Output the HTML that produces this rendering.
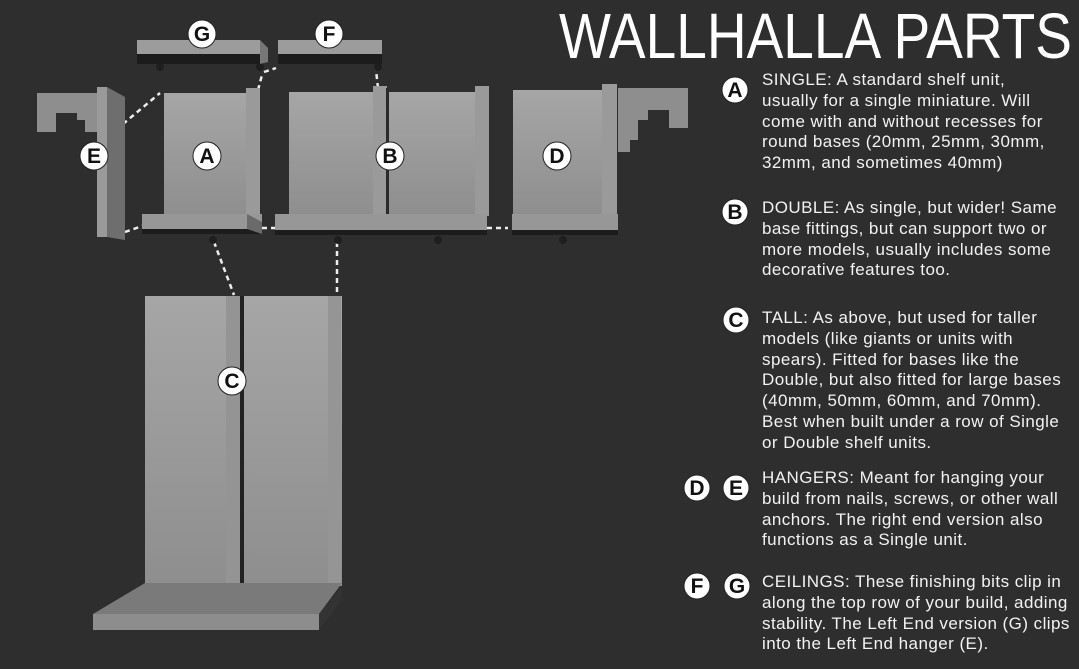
<!DOCTYPE html>
<html><head><meta charset="utf-8"><style>
html,body{margin:0;padding:0;background:#2e2e2e;}
body{width:1079px;height:669px;position:relative;overflow:hidden;font-family:"Liberation Sans",sans-serif;}
.t{position:absolute;left:762px;color:#f2f2f2;font-size:17px;letter-spacing:0.45px;line-height:20.8px;white-space:nowrap;}
.title{position:absolute;left:559px;top:0px;color:#fff;font-family:"Liberation Sans",sans-serif;font-size:64px;line-height:72px;white-space:nowrap;transform:scaleX(0.86);transform-origin:0 0;}
svg{position:absolute;left:0;top:0;}
</style></head><body>
<svg width="1079" height="669" viewBox="0 0 1079 669">
<defs>
<linearGradient id="g" x1="0" y1="0" x2="0" y2="1"><stop offset="0" stop-color="#a6a6a6"/><stop offset="1" stop-color="#8e8e8e"/></linearGradient>
</defs>
<g stroke="#eee" stroke-width="2.5" stroke-dasharray="5,4" fill="none">
<line x1="123" y1="124" x2="160" y2="93"/>
<line x1="258" y1="90" x2="262" y2="75"/>
<line x1="264" y1="72" x2="276" y2="68"/>
<line x1="378" y1="88" x2="376" y2="70"/>
<line x1="125" y1="232" x2="145" y2="225"/>
<line x1="262" y1="228" x2="275" y2="228"/>
<line x1="487" y1="228" x2="508" y2="228"/>
<line x1="214" y1="242" x2="234" y2="295"/>
<line x1="337" y1="242" x2="337" y2="295"/>
</g>
<g fill="#1e1e1e">
<circle cx="160" cy="67" r="4"/><circle cx="260" cy="67" r="4"/><circle cx="378" cy="67" r="4"/>
<circle cx="213" cy="240" r="4"/><circle cx="338" cy="240" r="4"/><circle cx="438" cy="240" r="4"/><circle cx="563" cy="240" r="4"/>
</g>
<rect x="137" y="53" width="123" height="11" fill="#1c1c1c"/>
<rect x="137" y="40" width="123" height="14" fill="#9c9c9c"/>
<polygon points="260,40 268,48 268,62 260,64" fill="#777"/>
<rect x="278" y="53" width="104" height="11" fill="#1c1c1c"/>
<rect x="278" y="40" width="104" height="14" fill="#9c9c9c"/>
<polygon points="37,93 97,93 97,132 85,132 85,120 77,120 77,113 56,113 56,132 37,132" fill="#8e8e8e"/>
<polygon points="97,87 107,87 107,237 97,237" fill="#9a9a9a"/>
<polygon points="107,87 125,97 125,240 107,237" fill="#6e6e6e"/>
<rect x="164" y="93" width="83" height="124" fill="url(#g)"/>
<rect x="246" y="88" width="14" height="130" fill="#9a9a9a"/>
<rect x="142" y="214" width="120" height="15" fill="#979797"/>
<rect x="142" y="229" width="120" height="5" fill="#1c1c1c"/>
<polygon points="247,214 262,222 262,234 247,229" fill="#6a6a6a"/>
<rect x="289" y="92" width="187" height="124" fill="url(#g)"/>
<rect x="373" y="86" width="14" height="130" fill="#9a9a9a"/>
<rect x="386" y="88" width="3" height="128" fill="#2a2a2a"/>
<rect x="475" y="86" width="14" height="130" fill="#9a9a9a"/>
<rect x="275" y="214" width="212" height="16" fill="#979797"/>
<rect x="275" y="230" width="212" height="5" fill="#1c1c1c"/>
<rect x="513" y="90" width="89" height="126" fill="url(#g)"/>
<rect x="602" y="84" width="15" height="132" fill="#9a9a9a"/>
<rect x="512" y="214" width="106" height="16" fill="#979797"/>
<rect x="512" y="230" width="106" height="5" fill="#1c1c1c"/>
<polygon points="618,88 688,88 688,128 669,128 669,110 648,110 648,120 638,120 638,140 630,140 630,152 618,152" fill="#8e8e8e"/>
<rect x="145" y="296" width="197" height="290" fill="url(#g)"/>
<rect x="226" y="296" width="14" height="290" fill="#949494"/>
<rect x="240" y="296" width="4" height="288" fill="#222"/>
<rect x="328" y="296" width="13" height="290" fill="#959595"/>
<polygon points="145,583 342,583 319,614 93,614" fill="#7a7a7a"/>
<rect x="93" y="614" width="226" height="16" fill="#8d8d8d"/>
<polygon points="319,614 342,587 342,600 319,630" fill="#333"/>
<g fill="#fff" stroke="#222" stroke-width="1">
<circle cx="202" cy="34" r="14"/><circle cx="329" cy="34" r="14"/>
<circle cx="94" cy="156" r="14"/><circle cx="207" cy="156" r="14"/><circle cx="390" cy="156" r="14"/><circle cx="557" cy="156" r="14"/>
<circle cx="232" cy="381" r="14"/>
<circle cx="735" cy="90" r="13"/><circle cx="735" cy="212" r="13"/><circle cx="736" cy="320" r="13"/>
<circle cx="697" cy="488" r="13"/><circle cx="736" cy="488" r="13"/>
<circle cx="697" cy="586" r="13"/><circle cx="737" cy="586" r="13"/>
</g>
<g font-family="Liberation Sans, sans-serif" font-size="21" font-weight="bold" fill="#111" text-anchor="middle">
<text x="202" y="41">G</text><text x="329" y="41">F</text>
<text x="94" y="163">E</text><text x="207" y="163">A</text><text x="390" y="163">B</text><text x="557" y="163">D</text>
<text x="232" y="388">C</text>
<text x="735" y="97">A</text><text x="735" y="219">B</text><text x="736" y="327">C</text>
<text x="697" y="495">D</text><text x="736" y="495">E</text>
<text x="697" y="593">F</text><text x="737" y="593">G</text>
</g>
</svg>
<div class="title">WALLHALLA PARTS</div>
<div class="t" style="top:70px">SINGLE: A standard shelf unit,<br>usually for a single miniature. Will<br>come with and without recesses for<br>round bases (20mm, 25mm, 30mm,<br>32mm, and sometimes 40mm)</div>
<div class="t" style="top:198px">DOUBLE: As single, but wider! Same<br>base fittings, but can support two or<br>more models, usually includes some<br>decorative features too.</div>
<div class="t" style="top:308px">TALL: As above, but used for taller<br>models (like giants or units with<br>spears). Fitted for bases like the<br>Double, but also fitted for large bases<br>(40mm, 50mm, 60mm, and 70mm).<br>Best when built under a row of Single<br>or Double shelf units.</div>
<div class="t" style="top:468px">HANGERS: Meant for hanging your<br>build from nails, screws, or other wall<br>anchors. The right end version also<br>functions as a Single unit.</div>
<div class="t" style="top:572px">CEILINGS: These finishing bits clip in<br>along the top row of your build, adding<br>stability. The Left End version (G) clips<br>into the Left End hanger (E).</div>
</body></html>
